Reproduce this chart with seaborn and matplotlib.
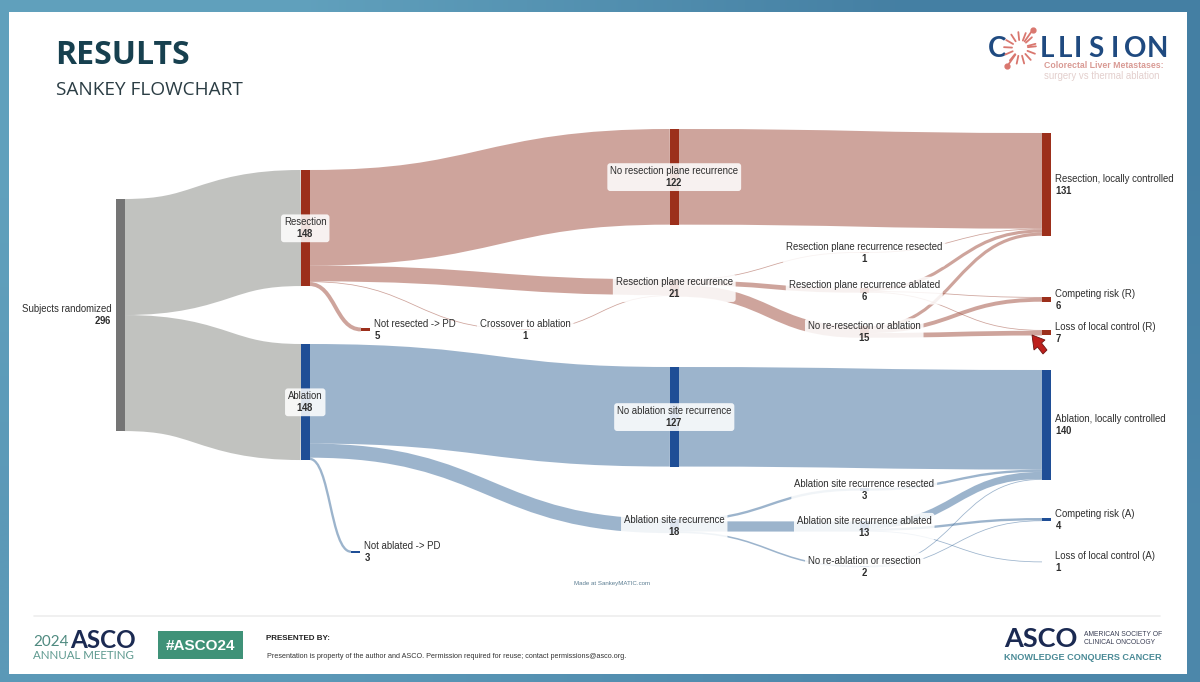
"""
COLLISION trial results slide: Sankey flowchart of subjects from randomisation to outcome.
Axes run in slide pixels, link thickness comes from the flow values.
"""
import numpy as np
import matplotlib
matplotlib.use("Agg")
import matplotlib.pyplot as plt
from matplotlib.patches import PathPatch, Polygon, Rectangle
from matplotlib.path import Path
import seaborn as sns

sns.set_theme(style="white")
plt.rcParams["font.family"] = ["Liberation Sans", "DejaVu Sans"]
plt.rcParams["mathtext.fontset"] = "custom"
plt.rcParams["mathtext.bf"] = "Liberation Sans:bold"
plt.rcParams["mathtext.rm"] = "Liberation Sans"

# ------------------------------------------------------------------
# Data
# ------------------------------------------------------------------
node_names = [
    "Subjects randomized", "Resection", "Ablation",
    "No resection plane recurrence", "Resection plane recurrence", "Not resected -> PD",
    "Crossover to ablation", "No ablation site recurrence", "Ablation site recurrence",
    "Not ablated -> PD", "Resection plane recurrence resected",
    "Resection plane recurrence ablated", "No re-resection or ablation",
    "Ablation site recurrence resected", "Ablation site recurrence ablated",
    "No re-ablation or resection", "Resection, locally controlled", "Competing risk (R)",
    "Loss of local control (R)", "Ablation, locally controlled", "Competing risk (A)",
    "Loss of local control (A)",
]
node_totals = [296, 148, 148, 122, 21, 5, 1, 127, 18, 3, 1, 6, 15, 3, 13, 2, 131, 6, 7, 140, 4, 1]

flow_sources = [0, 0,
                1, 1, 1, 1, 6,
                4, 4, 4,
                3, 10, 11, 11, 11, 12, 12, 12,
                2, 2, 2,
                8, 8, 8,
                7, 13, 14, 14, 14, 15, 15]
flow_targets = [1, 2,
                3, 4, 6, 5, 4,
                10, 11, 12,
                16, 16, 16, 17, 18, 16, 17, 18,
                7, 8, 9,
                13, 14, 15,
                19, 19, 19, 20, 21, 19, 20]
flow_values = [148, 148,
               122, 20, 1, 5, 1,
               1, 6, 15,
               122, 1, 4, 1, 1, 4, 5, 6,
               127, 18, 3,
               3, 13, 2,
               127, 3, 9, 3, 1, 1, 1]

# ------------------------------------------------------------------
# Layout (slide pixels) and styles
# ------------------------------------------------------------------
node_left = [116, 301, 301, 670, 670, 361, 521, 670, 670, 351, 860, 860, 860, 860, 860, 860,
             1042, 1042, 1042, 1042, 1042, 1042]
node_top = [199, 170, 344, 129, 279.5, 327.5, 329, 367, 519, 550.5, 252, 288, 326,
            488.3, 521.4, 565.7, 133, 297, 330, 370, 518, 561.5]
label_side = ["left", "box", "box", "box", "box", "right", "box", "box", "box", "right",
              "box", "box", "box", "box", "box", "box",
              "right", "right", "right", "right", "right", "right"]
node_kind = ["grey", "red", "blue", "red", "red", "red", "red", "blue", "blue", "blue",
             "red", "red", "red", "blue", "blue", "blue", "red", "red", "red", "blue", "blue", "blue"]
NODE_W = 8.5
PX_PER_UNIT = 0.784
PX_TO_PT = 0.72
node_colors = {"grey": "#757575", "red": "#9c2f1b", "blue": "#1f4e96"}
link_colors = {"grey": "#848681", "red": "#9e4a3a", "blue": "#3b6a9b"}
LABEL_SIZE = 6.95
LABEL_KW = dict(fontsize=LABEL_SIZE, color="#2e2e2e", linespacing=1.0, va="center", zorder=5)

fig = plt.figure(figsize=(12, 6.82), dpi=100)
ax = fig.add_axes([0, 0, 1, 1])

# slide frame
frame = np.array([[[0.38, 0.63, 0.74], [0.27, 0.50, 0.64]],
                  [[0.36, 0.60, 0.72], [0.30, 0.53, 0.67]]])
ax.imshow(frame, extent=[0, 1200, 682, 0], aspect="auto", interpolation="bilinear", zorder=0)
ax.add_patch(Rectangle((9, 12), 1178, 662, fc="white", ec="none", zorder=1))
ax.set_xlim(0, 1200)
ax.set_ylim(682, 0)
ax.axis("off")

# ------------------------------------------------------------------
# Links: stacked in list order at each end, drawn as thick strokes
# ------------------------------------------------------------------
out_used = [0.0] * len(node_names)
in_used = [0.0] * len(node_names)
for s, t, v in zip(flow_sources, flow_targets, flow_values):
    w = v * PX_PER_UNIT
    y0 = node_top[s] + out_used[s] + w / 2
    y1 = node_top[t] + in_used[t] + w / 2
    out_used[s] += w
    in_used[t] += w
    x0 = node_left[s] + NODE_W
    x1 = node_left[t]
    xm = (x0 + x1) / 2
    link = Path([(x0, y0), (xm, y0), (xm, y1), (x1, y1)],
                [Path.MOVETO, Path.CURVE4, Path.CURVE4, Path.CURVE4])
    ax.add_patch(PathPatch(link, fill=False, ec=link_colors[node_kind[s]], alpha=0.5,
                           lw=w * PX_TO_PT, capstyle="butt", zorder=2))

# ------------------------------------------------------------------
# Nodes and labels
# ------------------------------------------------------------------
for i, name in enumerate(node_names):
    h = node_totals[i] * PX_PER_UNIT
    ax.add_patch(Rectangle((node_left[i], node_top[i]), NODE_W, h,
                           fc=node_colors[node_kind[i]], ec="none", zorder=3))
    yc = node_top[i] + h / 2 + 0.3
    txt = f"{name}\n$\\mathbf{{{node_totals[i]}}}$"
    if label_side[i] == "left":
        ax.text(node_left[i] - 4, yc, txt, ha="right", ma="right", **LABEL_KW)
    elif label_side[i] == "right":
        ax.text(node_left[i] + NODE_W + 4.5, yc, txt, ha="left", ma="left", **LABEL_KW)
    else:
        ax.text(node_left[i] + NODE_W / 2, yc, txt, ha="center", ma="center", **LABEL_KW,
                bbox=dict(boxstyle="round,pad=0.3,rounding_size=0.3", fc="white", ec="none", alpha=0.86))

ax.text(612.5, 584, "Made at SankeyMATIC.com", ha="center", va="center", fontsize=4.4, color="#5b7d92", zorder=5)

# cursor arrow
ax.add_patch(Polygon([(1032, 335), (1045, 340), (1041.5, 343), (1047, 350), (1043, 354),
                      (1037.5, 347), (1034, 350)], fc="#bd201c", ec="#6c1512", lw=0.6, zorder=6))

# ------------------------------------------------------------------
# Slide furniture
# ------------------------------------------------------------------
ax.text(55, 56, "RESULTS", fontsize=23, fontweight="bold", family="Open Sans", color="#17404f",
        ha="left", va="center", zorder=5)
ax.text(56, 90, "SANKEY FLOWCHART", fontsize=13.7, family="Open Sans", color="#2b3d44",
        ha="left", va="center", zorder=5)

# COLLISION logo
logo_letters = ["C", "L", "L", "I", "S", "I", "O", "N"]
logo_x = [997, 1047, 1065, 1078, 1096, 1115, 1135, 1157]
for ch, x in zip(logo_letters, logo_x):
    ax.text(x, 49, ch, fontsize=20, family="Lato", fontweight="bold", color="#1f4a80",
            ha="center", va="center", zorder=5)
spoke_angles = np.deg2rad(np.arange(15, 375, 27))
for a in spoke_angles:
    ax.plot([1020 + 8 * np.cos(a), 1020 + 16 * np.cos(a)], [48 - 8 * np.sin(a), 48 - 16 * np.sin(a)],
            color="#d9776f", lw=1.3, zorder=5)
for a in np.deg2rad([55, 235]):
    ax.plot([1020 + 8 * np.cos(a), 1020 + 22 * np.cos(a)], [48 - 8 * np.sin(a), 48 - 22 * np.sin(a)],
            color="#d9776f", lw=1.3, zorder=5)
    ax.plot(1020 + 22 * np.cos(a), 48 - 22 * np.sin(a), "o", ms=3.5, color="#d9776f", zorder=5)
ax.text(1044, 66, "Colorectal Liver Metastases:", fontsize=6.3, fontweight="bold", color="#d99a94",
        ha="left", va="center", zorder=5)
ax.text(1044, 76, "surgery vs thermal ablation", fontsize=6.9, color="#e3cfcd", ha="left", va="center", zorder=5)

# footer
ax.plot([34, 1160], [616, 616], color="#eeeeee", lw=1.2, zorder=2)
ax.text(33, 642, "2024", fontsize=11, family="Lato", color="#4f8a80", ha="left", va="center", zorder=5)
ax.text(70, 640, "ASCO", fontsize=17.5, family="Lato", fontweight="bold", color="#1b2a52",
        ha="left", va="center", zorder=5)
ax.text(33, 655.5, "ANNUAL MEETING", fontsize=8.3, family="Lato", color="#5f9a90", ha="left", va="center", zorder=5)
ax.add_patch(Rectangle((158, 631), 85, 28, fc="#3f9278", ec="none", zorder=3))
ax.text(200.5, 645.5, "#ASCO24", fontsize=11, fontweight="bold", color="white", ha="center", va="center", zorder=5)
ax.text(266, 638.5, "PRESENTED BY:", fontsize=5.8, fontweight="bold", color="#222222", ha="left", va="center", zorder=5)
ax.text(267, 656.5, "Presentation is property of the author and ASCO. Permission required for reuse; contact permissions@asco.org.",
        fontsize=5.2, color="#333333", ha="left", va="center", zorder=5)
ax.text(1004, 639, "ASCO", fontsize=19.5, family="Lato", fontweight="bold", color="#1b2a52",
        ha="left", va="center", zorder=5)
ax.text(1084, 634.5, "AMERICAN SOCIETY OF", fontsize=4.85, color="#3a3f55", ha="left", va="center", zorder=5)
ax.text(1084, 642.5, "CLINICAL ONCOLOGY", fontsize=4.85, color="#3a3f55", ha="left", va="center", zorder=5)
ax.text(1004, 657, "KNOWLEDGE CONQUERS CANCER", fontsize=6.6, fontweight="bold", color="#4a8a96",
        ha="left", va="center", zorder=5)

fig.savefig("out.png", dpi=100)
